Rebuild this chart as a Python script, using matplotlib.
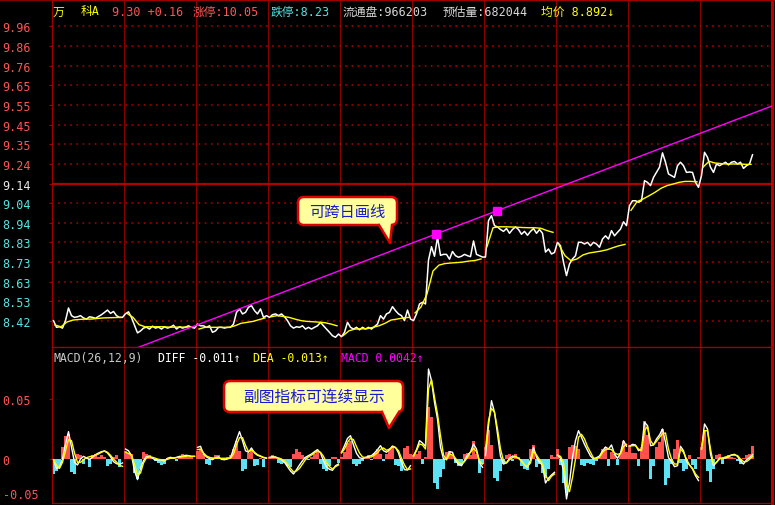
import matplotlib
matplotlib.use('Agg')
import matplotlib.pyplot as plt
import numpy as np
from matplotlib.patches import FancyBboxPatch, Polygon
from matplotlib.lines import Line2D
from matplotlib.transforms import Affine2D, blended_transform_factory

plt.rcParams['lines.scale_dashes'] = False
MONO = ['DejaVu Sans Mono', 'Noto Sans CJK SC']
CJK = ['Noto Sans CJK SC', 'DejaVu Sans']

# ---------------- data ----------------
prev_close = 9.14
price_ticks = [8.4225, 8.525, 8.6275, 8.73, 8.8325, 8.935, 9.0375, 9.14,
               9.2425, 9.345, 9.4475, 9.55, 9.6525, 9.755, 9.8575, 9.96]
price_labels = ['8.42', '8.53', '8.63', '8.73', '8.83', '8.94', '9.04', '9.14',
                '9.24', '9.35', '9.45', '9.55', '9.65', '9.76', '9.86', '9.96']

d1 = [8.424, 8.389, 8.392, 8.385, 8.424, 8.49, 8.45, 8.441, 8.444, 8.45, 8.438, 8.432,
      8.444, 8.441, 8.436, 8.446, 8.455, 8.467, 8.479, 8.462, 8.472, 8.45, 8.441, 8.441]
d2 = [8.46, 8.47, 8.44, 8.40, 8.36, 8.37, 8.385, 8.39, 8.38, 8.395, 8.385, 8.39,
      8.38, 8.392, 8.385, 8.39, 8.40, 8.38, 8.392, 8.385, 8.39, 8.397, 8.389, 8.385]
d3 = [8.406, 8.397, 8.397, 8.389, 8.397, 8.363, 8.37, 8.389, 8.389, 8.385, 8.389, 8.389,
      8.406, 8.467, 8.485, 8.459, 8.467, 8.494, 8.502, 8.476, 8.459, 8.485, 8.441, 8.45]
d4 = [8.441, 8.455, 8.459, 8.45, 8.459, 8.444, 8.424, 8.397, 8.385, 8.392, 8.389, 8.397,
      8.38, 8.389, 8.38, 8.389, 8.397, 8.415, 8.397, 8.38, 8.363, 8.345, 8.337, 8.354]
d5 = [8.34, 8.363, 8.415, 8.389, 8.38, 8.389, 8.376, 8.389, 8.38, 8.389, 8.38, 8.393,
      8.406, 8.45, 8.432, 8.459, 8.467, 8.497, 8.476, 8.459, 8.45, 8.424, 8.479, 8.432]
d6 = [8.424, 8.459, 8.511, 8.52, 8.511, 8.74, 8.81, 8.76, 8.86, 8.765, 8.77, 8.77,
      8.745, 8.785, 8.763, 8.755, 8.76, 8.77, 8.763, 8.758, 8.84, 8.77, 8.763, 8.756]
d7 = [8.756, 8.946, 8.972, 8.92, 8.913, 8.90, 8.89, 8.905, 8.88, 8.90, 8.913, 8.90,
      8.875, 8.89, 8.87, 8.89, 8.905, 8.88, 8.90, 8.88, 8.782, 8.798, 8.772, 8.78]
d8 = [8.833, 8.815, 8.729, 8.659, 8.72, 8.746, 8.763, 8.833, 8.833, 8.824, 8.833, 8.815,
      8.833, 8.824, 8.807, 8.85, 8.867, 8.85, 8.894, 8.867, 8.885, 8.902, 8.94, 8.92]
d9 = [9.024, 9.05, 9.05, 9.042, 9.05, 9.155, 9.146, 9.129, 9.172, 9.198, 9.225, 9.30,
      9.251, 9.19, 9.181, 9.172, 9.233, 9.251, 9.233, 9.198, 9.2, 9.198, 9.146, 9.12]
d10 = [9.181, 9.303, 9.277, 9.225, 9.198, 9.242, 9.233, 9.242, 9.251, 9.237, 9.251, 9.255,
       9.242, 9.251, 9.219, 9.233, 9.242, 9.29]
price_days = [d1, d2, d3, d4, d5, d6, d7, d8, d9, d10]

a1 = [8.401, 8.392, 8.417, 8.427, 8.43, 8.432, 8.432, 8.435, 8.438, 8.439, 8.44, 8.441]
a2 = [8.462, 8.441, 8.403, 8.392, 8.392, 8.392, 8.392, 8.39, 8.39, 8.39, 8.39, 8.389]
a3 = [8.38, 8.389, 8.389, 8.389, 8.389, 8.389, 8.397, 8.41, 8.415, 8.42, 8.429, 8.438]
a4 = [8.444, 8.45, 8.446, 8.441, 8.432, 8.424, 8.42, 8.418, 8.416, 8.413, 8.406, 8.397]
a5 = [8.345, 8.371, 8.38, 8.381, 8.382, 8.389, 8.397, 8.41, 8.427, 8.432, 8.438, 8.441]
a6 = [8.464, 8.495, 8.563, 8.683, 8.714, 8.722, 8.725, 8.727, 8.730, 8.735, 8.738, 8.746]
a7 = [8.81, 8.909, 8.914, 8.914, 8.913, 8.912, 8.910, 8.909, 8.909, 8.906, 8.894, 8.885]
a8 = [8.819, 8.763, 8.737, 8.746, 8.767, 8.777, 8.782, 8.787, 8.794, 8.805, 8.815, 8.822]
a9 = [9.00, 9.045, 9.059, 9.076, 9.094, 9.115, 9.129, 9.137, 9.146, 9.151, 9.151, 9.149]
a10 = [9.225, 9.256, 9.247, 9.244, 9.242, 9.242, 9.242, 9.24, 9.24]
avg_days = [a1, a2, a3, a4, a5, a6, a7, a8, a9, a10]

trend_x = [5.329, 6.181]
trend_p = [8.876, 8.998]

b1 = [-0.0125, -0.0097, -0.007, 0.0097, 0.019, 0.021, -0.011, -0.0125, 0.004, 0.003, -0.004, 0.002,
      -0.007, 0.003, 0.004, 0.002, 0.003, 0.002, -0.0056, -0.004, 0.002, 0.003, -0.007, 0.0]
b2 = [0.007, 0.005, 0.004, -0.012, -0.017, -0.008, 0.006, 0.004, 0.003, 0.002, -0.002, -0.003,
      -0.005, -0.004, 0.001, 0.002, 0.002, -0.002, 0.002, 0.004, 0.003, 0.002, 0.002, 0.0]
b3 = [0.007, 0.008, 0.004, -0.004, -0.005, 0.002, 0.003, 0.003, 0.001, -0.001, 0.002, 0.003,
      0.008, 0.015, 0.007, -0.010, -0.008, 0.005, 0.008, -0.006, -0.005, 0.001, -0.007, 0.0]
b4 = [0.002, 0.003, 0.002, -0.003, -0.004, -0.003, -0.006, -0.007, 0.004, 0.008, 0.006, 0.003,
      0.002, -0.001, 0.002, 0.004, 0.006, -0.004, -0.008, -0.010, -0.006, 0.002, 0.002, -0.003]
b5 = [0.002, 0.006, 0.013, 0.015, -0.004, -0.006, -0.004, -0.002, 0.002, 0.003, -0.001, 0.005,
      0.008, 0.004, -0.002, 0.004, 0.008, 0.011, -0.005, -0.006, -0.010, 0.009, 0.011, 0.004]
b6 = [0.003, 0.004, 0.007, -0.004, 0.002, 0.043, 0.035, -0.020, -0.025, -0.015, -0.008, 0.006,
      0.007, 0.003, -0.003, -0.006, -0.005, 0.004, 0.005, 0.003, 0.015, 0.004, -0.012, -0.004]
b7 = [0.010, 0.024, 0.012, -0.016, -0.018, -0.010, -0.004, 0.003, 0.004, -0.002, 0.004, 0.002,
      -0.006, -0.008, -0.009, 0.008, 0.012, -0.007, -0.004, -0.012, -0.016, -0.008, 0.003, 0.002]
b8 = [0.008, -0.005, -0.020, -0.028, 0.010, 0.012, 0.011, 0.008, -0.005, -0.006, -0.003, -0.004,
      -0.005, -0.002, 0.002, 0.008, 0.010, -0.006, 0.006, 0.004, -0.005, 0.005, 0.015, 0.006]
b9 = [0.012, 0.005, 0.005, -0.006, 0.010, 0.032, 0.020, -0.017, -0.006, 0.010, 0.014, 0.025,
      -0.022, -0.016, -0.004, 0.008, 0.016, -0.003, -0.010, -0.008, 0.003, -0.005, -0.008, 0.002]
b10 = [0.010, 0.024, -0.010, -0.019, -0.008, 0.003, 0.004, -0.004, 0.002, 0.003, 0.002, 0.001,
       -0.002, -0.004, 0.001, 0.003, 0.004, 0.011]
macd_days = [b1, b2, b3, b4, b5, b6, b7, b8, b9, b10]

f1 = [-0.0006, -0.0078, -0.0072, 0.0, 0.0125, 0.0228, 0.0097, -0.0028, -0.005, 0.0, 0.0022, 0.0008,
      -0.0003, 0.0014, 0.0036, 0.005, 0.0061, 0.0067, 0.005, 0.0019, -0.0022, -0.0039, -0.0044, -0.0033]
f2 = [0.0083, 0.0069, 0.0028, -0.0097, -0.0172, -0.0078, -0.0014, 0.0019, 0.0022, 0.0006, -0.0008, -0.0008,
      -0.0008, -0.0017, 0.0006, 0.0014, 0.0006, 0.0014, 0.0022, 0.0022, 0.0031, 0.0028, 0.0022, 0.0022]
f3 = [0.0097, 0.0106, 0.0042, 0.0017, 0.0003, -0.0006, 0.0011, 0.0017, -0.0003, -0.0006, 0.0, 0.0011,
      0.0083, 0.0158, 0.0228, 0.0153, 0.0069, 0.0056, 0.0092, 0.005, 0.0031, 0.0022, 0.0011, 0.0006]
f4 = [0.0014, 0.0019, 0.0017, 0.0006, -0.0006, -0.0028, -0.0064, -0.01, -0.0125, -0.0089, -0.005, -0.0014,
      0.0014, 0.0028, 0.0042, 0.0061, 0.0078, 0.005, -0.0014, -0.0064, -0.0086, -0.0094, -0.0056, -0.0042]
f5 = [0.0056, 0.0111, 0.0172, 0.0194, 0.0117, 0.0047, 0.0011, 0.0003, 0.0014, 0.0022, 0.0028, 0.005,
      0.0078, 0.0111, 0.0069, 0.0056, 0.0078, 0.0108, 0.0097, 0.005, -0.0028, -0.0089, -0.0092, -0.0056]
f6 = [0.0028, 0.0078, 0.0153, 0.0133, 0.0106, 0.075, 0.0653, 0.0472, 0.0333, 0.0097, 0.0, 0.0,
      0.0061, 0.0056, -0.0014, -0.0042, -0.0056, -0.0011, 0.0033, 0.0058, 0.0125, 0.0083, -0.0028, -0.0069]
f7 = [0.0028, 0.0278, 0.0486, 0.0389, 0.0208, 0.0022, -0.0042, -0.0031, 0.0006, 0.0025, 0.0019, 0.0006,
      -0.0014, -0.005, -0.0069, -0.0006, 0.0097, 0.0014, -0.0028, -0.005, -0.020, -0.016, -0.0133, -0.0111]
f8 = [0.0033, 0.0006, -0.0097, -0.0333, -0.0194, 0.0014, 0.0153, 0.0236, 0.0181, 0.0122, 0.0072, 0.0025,
      0.0, 0.0011, 0.0025, 0.0067, 0.01, 0.0083, 0.0117, 0.0042, 0.0006, 0.005, 0.0153, 0.0106]
f9 = [0.0106, 0.0122, 0.0117, 0.0069, 0.0083, 0.0306, 0.0278, 0.0111, 0.0117, 0.0167, 0.02, 0.025,
      0.0139, 0.0011, -0.0022, -0.0064, -0.0056, 0.0106, 0.0069, -0.0019, -0.005, -0.0083, -0.0139, -0.018]
f10 = [0.0083, 0.0292, 0.025, 0.0042, -0.0056, -0.0028, 0.0008, 0.0006, 0.0008, 0.0017, 0.0033, 0.0039,
       0.0022, -0.0017, -0.0042, -0.0006, 0.0011, 0.0036]
diff_days = [f1, f2, f3, f4, f5, f6, f7, f8, f9, f10]

e1 = [-0.0006, -0.005, -0.0078, -0.0028, 0.0069, 0.0161, 0.0153, 0.005, -0.0028, -0.0028, -0.0006, 0.0011,
      0.0019, 0.0025, 0.0031, 0.0042, 0.0056, 0.0067, 0.0056, 0.0031, 0.0, -0.0025, -0.0053, -0.0061]
e2 = [0.0056, 0.0047, 0.0033, -0.0042, -0.0133, -0.0117, -0.0033, 0.0011, 0.0019, 0.0014, 0.0006, -0.0003,
      -0.0006, -0.0008, -0.0003, 0.0006, 0.0008, 0.0011, 0.0014, 0.0019, 0.0022, 0.0025, 0.0022, 0.0022]
e3 = [0.0078, 0.0083, 0.005, 0.0025, 0.0014, 0.0006, 0.0006, 0.0006, 0.0006, 0.0006, 0.0006, 0.0006,
      0.0042, 0.0117, 0.0178, 0.0178, 0.0114, 0.0061, 0.0075, 0.0056, 0.0036, 0.0025, 0.0014, 0.0008]
e4 = [0.0011, 0.0014, 0.0014, 0.0008, 0.0, -0.0017, -0.0044, -0.0078, -0.0108, -0.01, -0.0078, -0.0042,
      -0.0006, 0.0017, 0.0033, 0.005, 0.0067, 0.0056, 0.0022, -0.0031, -0.0064, -0.0083, -0.0064, -0.005]
e5 = [0.005, 0.0083, 0.0139, 0.0172, 0.0161, 0.0103, 0.005, 0.0017, 0.0011, 0.0014, 0.0017, 0.0033,
      0.0053, 0.0081, 0.0092, 0.0072, 0.0083, 0.01, 0.0094, 0.0069, 0.0006, -0.005, -0.0089, -0.0083]
e6 = [0.0022, 0.0069, 0.0125, 0.0117, 0.0083, 0.0583, 0.0661, 0.0514, 0.0375, 0.0194, 0.0033, -0.0008,
      0.0042, 0.0033, 0.0006, -0.0028, -0.0042, -0.0022, 0.0014, 0.0056, 0.0089, 0.0061, -0.0014, -0.0042]
e7 = [0.0083, 0.0319, 0.0422, 0.0389, 0.025, 0.0083, -0.0014, -0.0033, -0.0006, 0.0011, 0.0022, 0.0006,
      -0.0019, -0.005, -0.0061, -0.0033, 0.0069, 0.0033, -0.0006, -0.0042, -0.0133, -0.018, -0.0144, -0.0125]
e8 = [0.0033, 0.0022, -0.0028, -0.0217, -0.0272, -0.0153, 0.0, 0.0181, 0.0206, 0.0167, 0.0103, 0.0056,
      0.0008, 0.0003, 0.0014, 0.0056, 0.0078, 0.0083, 0.0078, 0.005, 0.0039, 0.0044, 0.0103, 0.0122]
e9 = [0.0106, 0.0111, 0.0111, 0.0083, 0.0069, 0.0236, 0.0272, 0.0153, 0.0117, 0.0147, 0.0181, 0.0211,
      0.0217, 0.0083, 0.0, -0.0042, -0.0042, 0.0083, 0.0056, 0.0, -0.005, -0.0078, -0.0125, -0.0153]
e10 = [0.0083, 0.0236, 0.0236, 0.0083, -0.0042, -0.0028, 0.0, 0.0008, 0.0017, 0.0025, 0.0033, 0.0033,
       0.0028, 0.0, -0.0022, -0.0022, -0.0003, 0.0022]
dea_days = [e1, e2, e3, e4, e5, e6, e7, e8, e9, e10]

macd_ticks = [0.05, 0.0]
macd_labels = ['0.05', '0']
macd_bottom_label = '-0.05'

header_items = [('万', '#ffff00'), ('科A', '#ffff00'), ('9.30 +0.16', '#ff5454'),
                ('涨停:10.05', '#ff5454'), ('跌停:8.23', '#54e4e4'),
                ('流通盘:966203', '#d8d8d8'), ('预估量:682044', '#d8d8d8'),
                ('均价 8.892↓', '#ffff00')]
header_x = [53, 81, 112, 193, 271, 343, 443, 541]
macd_items = [('MACD(26,12,9)', '#c8c8c8'), ('DIFF -0.011↑', '#ffffff'),
              ('DEA -0.013↑', '#ffff00'), ('MACD 0.0042↑', '#ff00ff')]
macd_x = [53, 158, 253, 341]

note1 = '可跨日画线'
note2 = '副图指标可连续显示'

# ---------------- figure ----------------
W, H = 775, 506
GRID = '#8c0000'
DOT = '#b00000'
RED = '#ff5454'
CYAN = '#54e4e4'
fig = plt.figure(figsize=(W / 100, H / 100), dpi=100, facecolor='black')
ax = fig.add_axes([52 / W, (H - 348) / H, 720 / W, 347 / H], facecolor='black')
mx = fig.add_axes([52 / W, (H - 504) / H, 720 / W, 156 / H], facecolor='black')

for a in (ax, mx):
    a.set_xlim(0, 10)
    a.set_xticks(range(1, 10))
    a.tick_params(axis='x', length=0, labelbottom=False)
    a.grid(axis='x', color=GRID, lw=0.75, zorder=0)
    for s in a.spines.values():
        s.set_color('#a00000')
        s.set_linewidth(0.9)
    a.spines['right'].set_color('#c00000')
    a.spines['right'].set_linewidth(2.2)
    a.set_axisbelow(True)

# main panel
ax.set_ylim(8.2863, 10.0982)
ax.set_yticks(price_ticks)
ax.set_yticklabels(price_labels, family=MONO, fontsize=8.5)
ax.tick_params(axis='y', length=2.5, width=0.8, color='#a00000', pad=33)
for lab, v in zip(ax.get_yticklabels(), price_ticks):
    lab.set_horizontalalignment('left')
    lab.set_color('#e8e8e8' if abs(v - prev_close) < 1e-6 else (RED if v > prev_close else CYAN))
for v in price_ticks:
    if abs(v - prev_close) > 1e-6:
        ax.axhline(v, color=DOT, lw=1.1, linestyle=(0, (1.2, 3.2)), zorder=1)
ax.axhline(prev_close, color='#b00000', lw=1.6, zorder=1)

px_all, py_all = [], []
for d, vals in enumerate(price_days):
    xs = d + (np.arange(len(vals)) + 0.5) / 24
    px_all.extend(xs)
    py_all.extend(vals)
ax.plot(px_all, py_all, color='white', lw=1.1, zorder=3)
for d, vals in enumerate(avg_days):
    xs = d + (np.arange(len(vals)) + 0.5) / 12
    ax.plot(xs, vals, color='#ffff00', lw=1.0, zorder=4)

ax.axline((trend_x[0], trend_p[0]), (trend_x[1], trend_p[1]), color='#ff00ff', lw=1.0, zorder=5)
ax.plot(trend_x, trend_p, 's', color='#ff00ff', markersize=6, zorder=6)

# MACD panel
mx.set_ylim(-0.03667, 0.09333)
mx.set_yticks(macd_ticks)
mx.set_yticklabels(macd_labels, family=MONO, fontsize=8.5, color=RED)
mx.tick_params(axis='y', length=2.5, width=0.8, color='#a00000', pad=33)
for lab in mx.get_yticklabels():
    lab.set_horizontalalignment('left')
btr = blended_transform_factory(fig.transFigure, mx.transData)
mx.text(3 / W, -0.030, macd_bottom_label, transform=btr, ha='left', va='center',
        color=RED, family=MONO, fontsize=8.5)

for d in range(10):
    bars = macd_days[d]
    xs = d + (np.arange(len(bars)) + 0.5) / 24
    cols = ['#ff5050' if b > 0 else '#5ce1f5' for b in bars]
    mx.bar(xs, bars, width=1 / 24, color=cols, linewidth=0, zorder=2)
    mx.plot(xs, diff_days[d], color='white', lw=1.0, zorder=3)
    mx.plot(xs, dea_days[d], color='#ffff00', lw=1.0, zorder=4)

# headers
for (txt, col), x in zip(header_items, header_x):
    fig.text(x / W, 1 - 12 / H, txt, color=col, family=MONO, fontsize=8.5, ha='left', va='center')
for (txt, col), x in zip(macd_items, macd_x):
    fig.text(x / W, 1 - 358 / H, txt, color=col, family=MONO, fontsize=8.3, ha='left', va='center')

# top border across the whole width
fig.add_artist(Line2D([0, 1], [1 - 1.2 / H, 1 - 1.2 / H], transform=fig.transFigure,
                      color='#a00000', lw=1.2))

# callouts (pixel coordinates, y downward)
T = Affine2D().scale(1 / W, -1 / H).translate(0, 1) + fig.transFigure


def callout(x0, y0, x1, y1, tail, text, fs):
    box = FancyBboxPatch((x0, y0), x1 - x0, y1 - y0,
                         boxstyle='round,pad=0,rounding_size=6',
                         transform=T, facecolor='#ffff9c', edgecolor='#e00000', lw=1.8, zorder=10)
    fig.add_artist(box)
    (bl, br, tip) = tail
    fill = Polygon([(bl, y1 - 2), (br, y1 - 2), (br, y1), tip, (bl, y1)], closed=True,
                   transform=T, facecolor='#ffff9c', edgecolor='none', zorder=11)
    fig.add_artist(fill)
    fig.add_artist(Line2D([bl, tip[0], br], [y1, tip[1], y1], transform=T,
                          color='#e00000', lw=1.8, zorder=12))
    fig.text((x0 + x1) / 2 / W, 1 - ((y0 + y1) / 2) / H, text, color='#1818d8',
             family=CJK, fontsize=fs, ha='center', va='center', zorder=13)


callout(298, 198, 397, 226, (379, 392, (390, 244)), note1, 11)
callout(224, 382, 403, 413, (382, 399, (389, 429)), note2, 11.3)

fig.savefig('out.png', dpi=100, facecolor='black')
